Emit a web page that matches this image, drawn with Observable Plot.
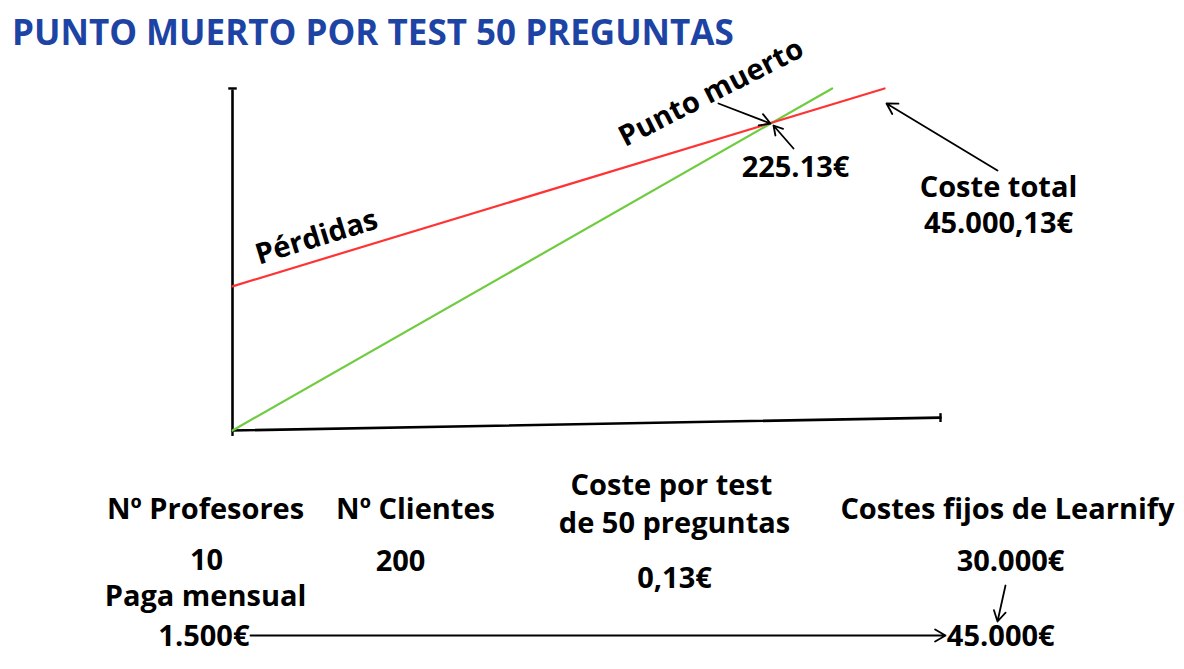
<!DOCTYPE html>
<html>
<head>
<meta charset="utf-8">
<script src="https://cdn.jsdelivr.net/npm/d3@7"></script>
<script src="https://cdn.jsdelivr.net/npm/@observablehq/plot@0.6"></script>
<style>
  html, body { margin: 0; padding: 0; background: #fff; }
  #title {
    height: 56px; margin: 0; padding: 0 0 0 12px; box-sizing: border-box;
    font-family: "Open Sans", sans-serif; font-weight: 700; font-size: 35px;
    line-height: 64px; color: #1d44a5; white-space: nowrap;
  }
  #chart svg { display: block; }
</style>
</head>
<body>
<div id="title">PUNTO MUERTO POR TEST 50 PREGUNTAS</div>
<div id="chart"></div>
<script>
// ---- data (abstract units) ----
const costeTotalX = [0, 92.1];
const costeTotalY = [42.4, 100.6];
const ingresosX = [0, 84.7];
const ingresosY = [0, 100.6];
const ejeHX = [0, 100];
const ejeHY = [0, 3.8];
const ejeVX = [0, 0];
const ejeVY = [0, 100];

const puntoMuertoLabel = "225.13€";
const costeTotalLabel = ["Coste total", "45.000,13€"];
const headers = ["Nº Profesores", "Nº Clientes", "Coste por test", "de 50 preguntas", "Costes fijos de Learnify"];
const values = ["10", "200", "0,13€", "30.000€"];
const pagaLabel = "Paga mensual";
const pagaValue = "1.500€";
const fijosTotal = "45.000€";

const toRows = (xs, ys) => xs.map((x, i) => ({x, y: ys[i]}));

const font = {fontFamily: "'Open Sans', sans-serif", fontWeight: 700, fill: "#000"};

const plot = Plot.plot({
  width: 1184,
  height: 613,
  margin: 0,
  x: {domain: [-32.768, 134.463], axis: null},
  y: {domain: [-70.294, 110], axis: null},
  style: {background: "#fff", overflow: "visible"},
  marks: [
    // axes (hand drawn)
    Plot.line(toRows(ejeVX, ejeVY), {x: "x", y: "y", stroke: "#000", strokeWidth: 2.6}),
    Plot.line(toRows(ejeHX, ejeHY), {x: "x", y: "y", stroke: "#000", strokeWidth: 2.6}),
    Plot.link([{x1: -0.6, x2: 0.6, y: 100.6}], {x1: "x1", x2: "x2", y1: "y", y2: "y", stroke: "#000", strokeWidth: 2.4}),
    Plot.link([{x: 0, y1: 0, y2: -1.6}], {x1: "x", x2: "x", y1: "y1", y2: "y2", stroke: "#000", strokeWidth: 2.4}),
    Plot.link([{x: 100, y1: 2.5, y2: 5.1}], {x1: "x", x2: "x", y1: "y1", y2: "y2", stroke: "#000", strokeWidth: 2.4}),
    // series
    Plot.line(toRows(ingresosX, ingresosY), {x: "x", y: "y", stroke: "#6fcc3f", strokeWidth: 2.2}),
    Plot.line(toRows(costeTotalX, costeTotalY), {x: "x", y: "y", stroke: "#ff3333", strokeWidth: 2.2}),
    // arrows
    Plot.arrow([
      {x1: 68.64, y1: 96.18, x2: 75.99, y2: 90.29},
      {x1: 79.24, y1: 82.94, x2: 76.41, y2: 89.71},
      {x1: 108.05, y1: 76.47, x2: 92.37, y2: 96.18},
      {x1: 2.54, y1: -60.29, x2: 100.71, y2: -60.29},
      {x1: 109.18, y1: -45.59, x2: 108.05, y2: -56.18}
    ], {x1: "x1", y1: "y1", x2: "x2", y2: "y2", stroke: "#000", strokeWidth: 1.8, headLength: 10, bend: 0}),
    // labels on chart
    Plot.text(["Pérdidas"], {x: 11.86, y: 56.8, text: d => d, rotate: -17, fontSize: 29, ...font}),
    Plot.text(["Punto muerto"], {x: 67.6, y: 99.3, text: d => d, rotate: -27, fontSize: 29, ...font}),
    Plot.text([puntoMuertoLabel], {x: 79.52, y: 77.35, text: d => d, fontSize: 29, ...font}),
    Plot.text(costeTotalLabel, {x: 108.19, y: (d, i) => [71.5, 60.9][i], text: d => d, fontSize: 29, ...font}),
    // parameter table
    Plot.text(headers, {x: [-3.81, 25.85, 62.0, 62.43, 109.46], y: [-23.24, -23.24, -16.18, -27.35, -23.24], text: d => d, fontSize: 29, ...font}),
    Plot.text(values, {x: [-3.67, 23.73, 62.43, 109.89], y: [-38.2, -38.53, -43.53, -38.53], text: d => d, fontSize: 29, ...font}),
    Plot.text([pagaLabel], {x: -3.81, y: -48.85, text: d => d, fontSize: 29, ...font}),
    Plot.text([pagaValue], {x: 2.4, y: -60.59, text: d => d, textAnchor: "end", fontSize: 29, ...font}),
    Plot.text([fijosTotal], {x: 100.9, y: -60.59, text: d => d, textAnchor: "start", fontSize: 29, ...font})
  ]
});
document.getElementById("chart").appendChild(plot);
</script>
</body>
</html>
